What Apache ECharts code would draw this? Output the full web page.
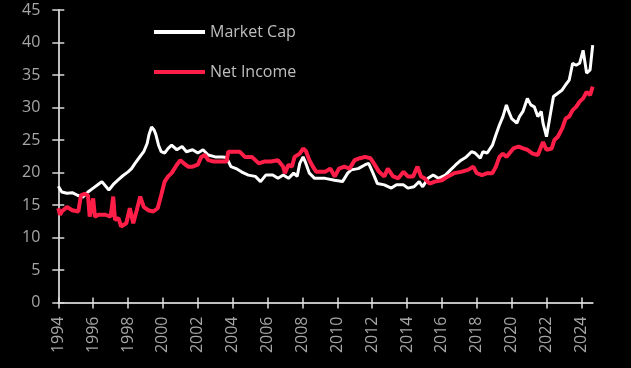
<!DOCTYPE html>
<html>
<head>
<meta charset="utf-8">
<script src="https://cdn.jsdelivr.net/npm/echarts@6/dist/echarts.min.js"></script>
<style>
html,body{margin:0;padding:0;background:#000;}
#c{width:631px;height:368px;}
</style>
</head>
<body>
<div id="c"></div>
<script>
// ---- data ----
const mcDates = [1994.0,1994.2,1994.5,1994.8,1995.1,1995.4,1995.7,1996.0,1996.3,1996.5,1996.9,1997.2,1997.4,1997.7,1998.0,1998.2,1998.4,1998.7,1998.9,1999.1,1999.2,1999.35,1999.5,1999.6,1999.75,1999.9,2000.1,2000.3,2000.5,2000.8,2001.1,2001.35,2001.7,2002.0,2002.3,2002.6,2003.0,2003.4,2003.65,2003.9,2004.2,2004.5,2004.9,2005.3,2005.6,2005.9,2006.3,2006.6,2006.9,2007.2,2007.5,2007.7,2007.85,2008.04,2008.2,2008.4,2008.7,2009.0,2009.3,2009.85,2010.3,2010.6,2010.8,2011.2,2011.6,2011.8,2012.05,2012.3,2012.7,2013.1,2013.4,2013.8,2014.05,2014.4,2014.7,2014.9,2015.2,2015.5,2015.8,2016.2,2016.5,2016.8,2017.1,2017.4,2017.7,2017.9,2018.2,2018.35,2018.6,2018.9,2019.1,2019.3,2019.5,2019.7,2019.8,2020.0,2020.3,2020.45,2020.65,2020.9,2021.1,2021.3,2021.5,2021.7,2021.8,2022.0,2022.2,2022.4,2022.65,2022.9,2023.1,2023.3,2023.5,2023.7,2023.9,2024.1,2024.3,2024.5,2024.65];
const mcValues = [17.9,17.0,16.8,16.9,16.5,16.2,17.0,17.6,18.2,18.6,17.3,18.3,18.8,19.5,20.1,20.6,21.4,22.5,23.2,24.5,25.8,27.0,26.5,25.8,24.2,23.2,23.0,23.7,24.2,23.5,24.0,23.2,23.5,23.0,23.5,22.7,22.4,22.4,22.3,20.9,20.6,20.1,19.6,19.4,18.6,19.6,19.6,19.1,19.6,19.1,19.9,19.4,21.4,22.4,21.4,19.9,19.1,19.1,19.1,18.8,18.6,19.9,20.4,20.6,21.2,21.4,19.9,18.3,18.1,17.6,18.1,18.1,17.6,17.8,18.6,17.8,19.1,19.6,19.1,19.6,20.4,21.2,21.9,22.4,23.2,23.0,22.2,23.2,23.0,24.2,25.8,27.3,28.6,30.4,29.6,28.3,27.6,28.6,29.4,31.4,30.4,30.1,28.6,29.4,27.6,25.5,28.6,31.7,32.2,32.7,33.5,34.2,36.8,36.5,36.8,38.8,35.3,35.8,39.6];

const niDates = [1994.0,1994.1,1994.2,1994.5,1994.8,1995.15,1995.3,1995.5,1995.7,1995.8,1996.0,1996.1,1996.3,1996.7,1997.0,1997.15,1997.25,1997.45,1997.6,1997.9,1998.1,1998.3,1998.5,1998.7,1998.9,1999.15,1999.45,1999.7,1999.9,2000.1,2000.3,2000.5,2000.8,2001.0,2001.2,2001.45,2001.7,2002.0,2002.2,2002.4,2002.6,2002.9,2003.3,2003.65,2003.75,2004.0,2004.4,2004.7,2005.1,2005.5,2005.85,2006.2,2006.6,2006.9,2007.0,2007.2,2007.4,2007.55,2007.85,2008.04,2008.2,2008.4,2008.6,2008.8,2009.1,2009.3,2009.6,2009.85,2010.1,2010.4,2010.7,2011.0,2011.3,2011.6,2011.9,2012.1,2012.4,2012.7,2012.9,2013.2,2013.5,2013.8,2014.05,2014.35,2014.6,2014.8,2015.0,2015.3,2015.6,2016.0,2016.35,2016.7,2017.1,2017.5,2017.8,2018.0,2018.3,2018.6,2018.9,2019.1,2019.3,2019.5,2019.7,2019.8,2020.1,2020.4,2020.65,2020.9,2021.2,2021.5,2021.8,2022.0,2022.3,2022.45,2022.65,2022.9,2023.1,2023.3,2023.5,2023.7,2023.9,2024.1,2024.3,2024.5,2024.65];
const niValues = [14.5,13.5,14.0,14.7,14.2,14.0,16.5,16.7,16.5,13.2,16.0,13.2,13.5,13.5,13.2,16.3,12.7,13.0,11.7,12.2,14.5,12.2,14.2,16.3,14.7,14.2,14.0,14.5,16.5,18.6,19.4,19.9,21.2,21.9,21.4,20.9,20.9,21.2,22.4,22.7,21.9,21.7,21.7,21.7,23.2,23.2,23.2,22.4,22.4,21.4,21.7,21.7,21.9,20.9,19.9,21.2,20.9,22.4,22.9,23.7,23.3,21.9,20.9,20.1,20.1,20.1,20.6,19.4,20.6,20.9,20.6,21.9,22.2,22.4,22.2,21.4,20.1,19.4,20.6,19.4,19.1,20.1,19.4,19.4,20.9,19.4,19.1,18.3,18.6,18.8,19.4,19.9,20.1,20.4,20.9,19.9,19.6,19.9,19.9,20.9,22.4,22.9,22.4,22.4,23.7,24.0,23.7,23.5,22.9,22.7,24.7,23.5,23.7,25.0,25.5,26.8,28.3,28.6,29.6,30.1,30.9,31.4,32.4,31.9,33.2];

const yearTicks = [1994,1996,1998,2000,2002,2004,2006,2008,2010,2012,2014,2016,2018,2020,2022,2024];
const seriesNames = ['Market Cap', 'Net Income'];

// ---- chart ----
const zip = (xs, ys) => xs.map((x, i) => [x, ys[i]]);
const FONT = 'Open Sans';
const LABEL = '#a6a6a6';

const chart = echarts.init(document.getElementById('c'), null, {renderer: 'canvas'});
const xCommon = {type: 'value', min: 1994, max: 2024.65, splitLine: {show: false}, position: 'bottom'};
const yCommon = {type: 'value', min: 0, max: 45, interval: 5, splitLine: {show: false}, position: 'left'};

chart.setOption({
  backgroundColor: '#000',
  animation: false,
  grid: {left: 58.3, right: 38.3, top: 10, bottom: 65.5, containLabel: false},
  legend: {
    orient: 'vertical', left: 154, top: 22, padding: 0, itemWidth: 51, itemHeight: 4, itemGap: 20,
    textStyle: {color: '#bfbfbf', fontSize: 16, fontFamily: FONT, lineHeight: 20},
    data: seriesNames.map(n => ({name: n, icon: 'rect'}))
  },
  xAxis: [
    Object.assign({}, xCommon, {
      axisLine: {show: true, lineStyle: {color: '#bfbfbf', width: 2}},
      axisTick: {show: true, inside: false, length: 6, customValues: yearTicks, lineStyle: {color: '#e0e0e0', width: 1.5}},
      axisLabel: {show: true, rotate: 90, margin: 14, customValues: yearTicks, color: LABEL, fontSize: 16, fontFamily: FONT, formatter: v => String(v)}
    }),
    Object.assign({}, xCommon, {
      axisLine: {show: false},
      axisTick: {show: true, inside: true, length: 5, customValues: yearTicks, lineStyle: {color: '#e0e0e0', width: 1.5}},
      axisLabel: {show: false}
    })
  ],
  yAxis: [
    Object.assign({}, yCommon, {
      axisLine: {show: true, lineStyle: {color: '#ffffff', width: 1.5}},
      axisTick: {show: true, inside: false, length: 6, lineStyle: {color: '#d9d9d9', width: 1.5}},
      axisLabel: {show: true, margin: 18, color: LABEL, fontSize: 16, fontFamily: FONT}
    }),
    Object.assign({}, yCommon, {
      axisLine: {show: false},
      axisTick: {show: true, inside: true, length: 6, lineStyle: {color: '#d9d9d9', width: 1.5}},
      axisLabel: {show: false}
    })
  ],
  series: [
    {name: seriesNames[0], type: 'line', showSymbol: false, symbol: 'none', color: '#ffffff',
     lineStyle: {color: '#ffffff', width: 3}, data: zip(mcDates, mcValues), z: 2},
    {name: seriesNames[1], type: 'line', showSymbol: false, symbol: 'none', color: '#ff1e48',
     lineStyle: {color: '#ff1e48', width: 4}, data: zip(niDates, niValues), z: 3}
  ]
});
</script>
</body>
</html>
